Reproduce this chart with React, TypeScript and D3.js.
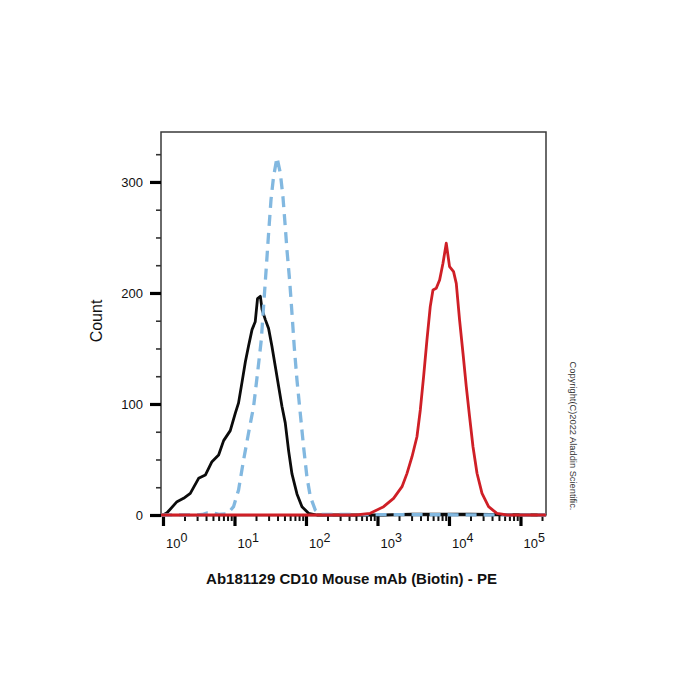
import React, { useEffect, useRef } from "react";
import * as d3 from "d3";

// Isotype control (black, solid)
const isoX = [0.94, 1.0, 1.14, 1.57, 1.94, 2.41, 3.15, 3.91, 4.84, 6.0, 7.05, 8.73, 10.3, 11.4, 12.7, 14.2, 15.7, 17.6, 19.5, 21.0, 23.0, 24.3, 27.0, 30.0, 33.4, 37.2, 41.4, 46.1, 51.3, 57.1, 63.7, 74.8, 87.9, 108.6, 142.6, 1200, 3000, 20000, 227000];
const isoY = [0, 0, 2, 12, 15, 19.5, 33, 36, 48, 54, 67, 76, 92, 101, 119, 138, 152, 167, 174, 195, 197, 185, 176, 168, 152, 134, 116, 98, 83, 58, 37, 19, 7.5, 1.5, 0, 0, 0.8, 0.8, 0];

// Unstained cells (blue, dashed)
const blankX = [0.94, 3.0, 3.55, 4.17, 5.01, 6.03, 7.94, 9.7, 11.4, 13.4, 15.7, 18.5, 21.0, 23.7, 25.5, 27.9, 30.0, 32.4, 35.2, 39.3, 43.8, 47.6, 51.3, 54.2, 59.0, 63.7, 68.5, 74.8, 83.2, 92.5, 103, 115, 135, 158, 227000];
const blankY = [0, 0, 0.5, 2, 2, 0.5, 1, 7.5, 22.5, 49.5, 73.6, 97.6, 127.7, 157.7, 187.7, 223.7, 253.8, 283.8, 304.8, 322, 307.8, 286.8, 259.7, 238.7, 211.7, 181.7, 151.6, 121.6, 91.6, 61.5, 34.5, 16.5, 4.5, 0.5, 0];

// CD10 stained (red)
const cd10X = [0.94, 500, 792, 1219, 1679, 2203, 2588, 3041, 3565, 3972, 4416, 4920, 5470, 5970, 6637, 7396, 8241, 9162, 10186, 11588, 12647, 14060, 15704, 17458, 19409, 21677, 24660, 28973, 35810, 46881, 64714, 227000];
const cd10Y = [0, 0, 1.5, 7.5, 15, 25.5, 37.5, 52.5, 70.5, 94.6, 124.6, 157.7, 187.7, 202.7, 204.2, 211.7, 226.8, 244.8, 223.7, 219.2, 208.7, 175.7, 145.7, 115.6, 88.6, 61.5, 37.6, 19.5, 7.5, 1.5, 0, 0];

const yMajor = [0, 100, 200, 300];
const yMinor = [25, 50, 75, 125, 150, 175, 225, 250, 275, 325];
const xExponents = [0, 1, 2, 3, 4, 5];

const xTitle = "Ab181129 CD10 Mouse mAb (Biotin) - PE";
const yTitle = "Count";
const copyright = "Copyright(C)2022 Aladdin Scientific.";

const App = () => {
  const svgRef = useRef<SVGSVGElement>(null);

  useEffect(() => {
    const svg = d3.select(svgRef.current);
    svg.selectAll("*").remove();

    const left = 161, right = 546, top = 132, bottom = 515;
    const font = "Arial, 'Liberation Sans', sans-serif";

    const x = d3.scaleLog().domain([0.938, 227500]).range([left, right]);
    const y = d3.scaleLinear().domain([0, 345]).range([bottom, top]);

    // frame
    svg.append("path")
      .attr("d", `M${left},${bottom} V${top} H${right} V${bottom}`)
      .attr("fill", "none")
      .attr("stroke", "#3a3a3a")
      .attr("stroke-width", 1.5);

    // x axis, minor ticks
    const minorX: number[] = [];
    for (let e = -1; e <= 5; e++) {
      for (let m = 2; m <= 9; m++) {
        const v = m * Math.pow(10, e);
        if (v > 0.938 && v < 227500) minorX.push(v);
      }
    }
    const xMinorAxis = svg.append("g")
      .attr("transform", `translate(0, ${bottom})`)
      .call(d3.axisBottom(x).tickValues(minorX).tickSize(6).tickSizeOuter(0).tickFormat(() => ""));
    xMinorAxis.select(".domain").attr("stroke", "#222").attr("stroke-width", 1.5);
    xMinorAxis.selectAll(".tick line").attr("stroke", "#111").attr("stroke-width", 2);

    const xMajorAxis = svg.append("g")
      .attr("transform", `translate(0, ${bottom})`)
      .call(d3.axisBottom(x).tickValues(xExponents.map((e) => Math.pow(10, e))).tickSize(11).tickSizeOuter(0).tickFormat(() => ""));
    xMajorAxis.select(".domain").remove();
    xMajorAxis.selectAll(".tick line").attr("stroke", "#000").attr("stroke-width", 3.2);

    // x tick labels as 10^n
    const xl = svg.append("g").attr("font-family", font).attr("fill", "#111");
    xExponents.forEach((e) => {
      const t = xl.append("text")
        .attr("x", x(Math.pow(10, e)) + 3)
        .attr("y", 548)
        .attr("font-size", 13);
      t.append("tspan").text("10");
      t.append("tspan").attr("dy", -6.5).attr("font-size", 12.5).text(String(e));
    });

    // y axis ticks
    const yMinorAxis = svg.append("g")
      .attr("transform", `translate(${left}, 0)`)
      .call(d3.axisLeft(y).tickValues(yMinor).tickSize(5).tickFormat(() => ""));
    yMinorAxis.select(".domain").remove();
    yMinorAxis.selectAll(".tick line").attr("stroke", "#333").attr("stroke-width", 1.6);

    const yMajorAxis = svg.append("g")
      .attr("transform", `translate(${left}, 0)`)
      .call(d3.axisLeft(y).tickValues(yMajor).tickSize(11).tickPadding(7).tickFormat(d3.format("d")));
    yMajorAxis.select(".domain").remove();
    yMajorAxis.selectAll(".tick line").attr("stroke", "#000").attr("stroke-width", 3.2);
    yMajorAxis.selectAll(".tick text")
      .attr("font-family", font)
      .attr("font-size", 13)
      .attr("fill", "#111");

    // histograms
    const line = d3.line<[number, number]>()
      .x((d) => x(d[0]))
      .y((d) => y(d[1]));

    svg.append("path")
      .datum(d3.zip(isoX, isoY) as [number, number][])
      .attr("fill", "none")
      .attr("stroke", "#0b0b0b")
      .attr("stroke-width", 2.8)
      .attr("stroke-linejoin", "round")
      .attr("d", line);

    svg.append("path")
      .datum(d3.zip(blankX, blankY) as [number, number][])
      .attr("fill", "none")
      .attr("stroke", "#82b8e0")
      .attr("stroke-width", 3.3)
      .attr("stroke-dasharray", "11 7")
      .attr("d", line);

    svg.append("path")
      .datum(d3.zip(cd10X, cd10Y) as [number, number][])
      .attr("fill", "none")
      .attr("stroke", "#cf1f26")
      .attr("stroke-width", 2.8)
      .attr("stroke-linejoin", "round")
      .attr("d", line);

    // titles
    svg.append("text")
      .attr("x", (left + right) / 2 - 2)
      .attr("y", 584)
      .attr("text-anchor", "middle")
      .attr("font-family", font)
      .attr("font-weight", "bold")
      .attr("font-size", 15)
      .attr("fill", "#111")
      .text(xTitle);

    svg.append("text")
      .attr("transform", "translate(102, 321) rotate(-90)")
      .attr("text-anchor", "middle")
      .attr("font-family", font)
      .attr("font-size", 16)
      .attr("fill", "#111")
      .text(yTitle);

    svg.append("text")
      .attr("transform", "translate(570, 436) rotate(90)")
      .attr("text-anchor", "middle")
      .attr("font-family", font)
      .attr("font-size", 9.3)
      .attr("fill", "#333")
      .text(copyright);
  }, []);

  return (
    <svg
      ref={svgRef}
      width={700}
      height={700}
      style={{ position: "absolute", left: 0, top: 0, background: "#fff" }}
    />
  );
};

export default App;
